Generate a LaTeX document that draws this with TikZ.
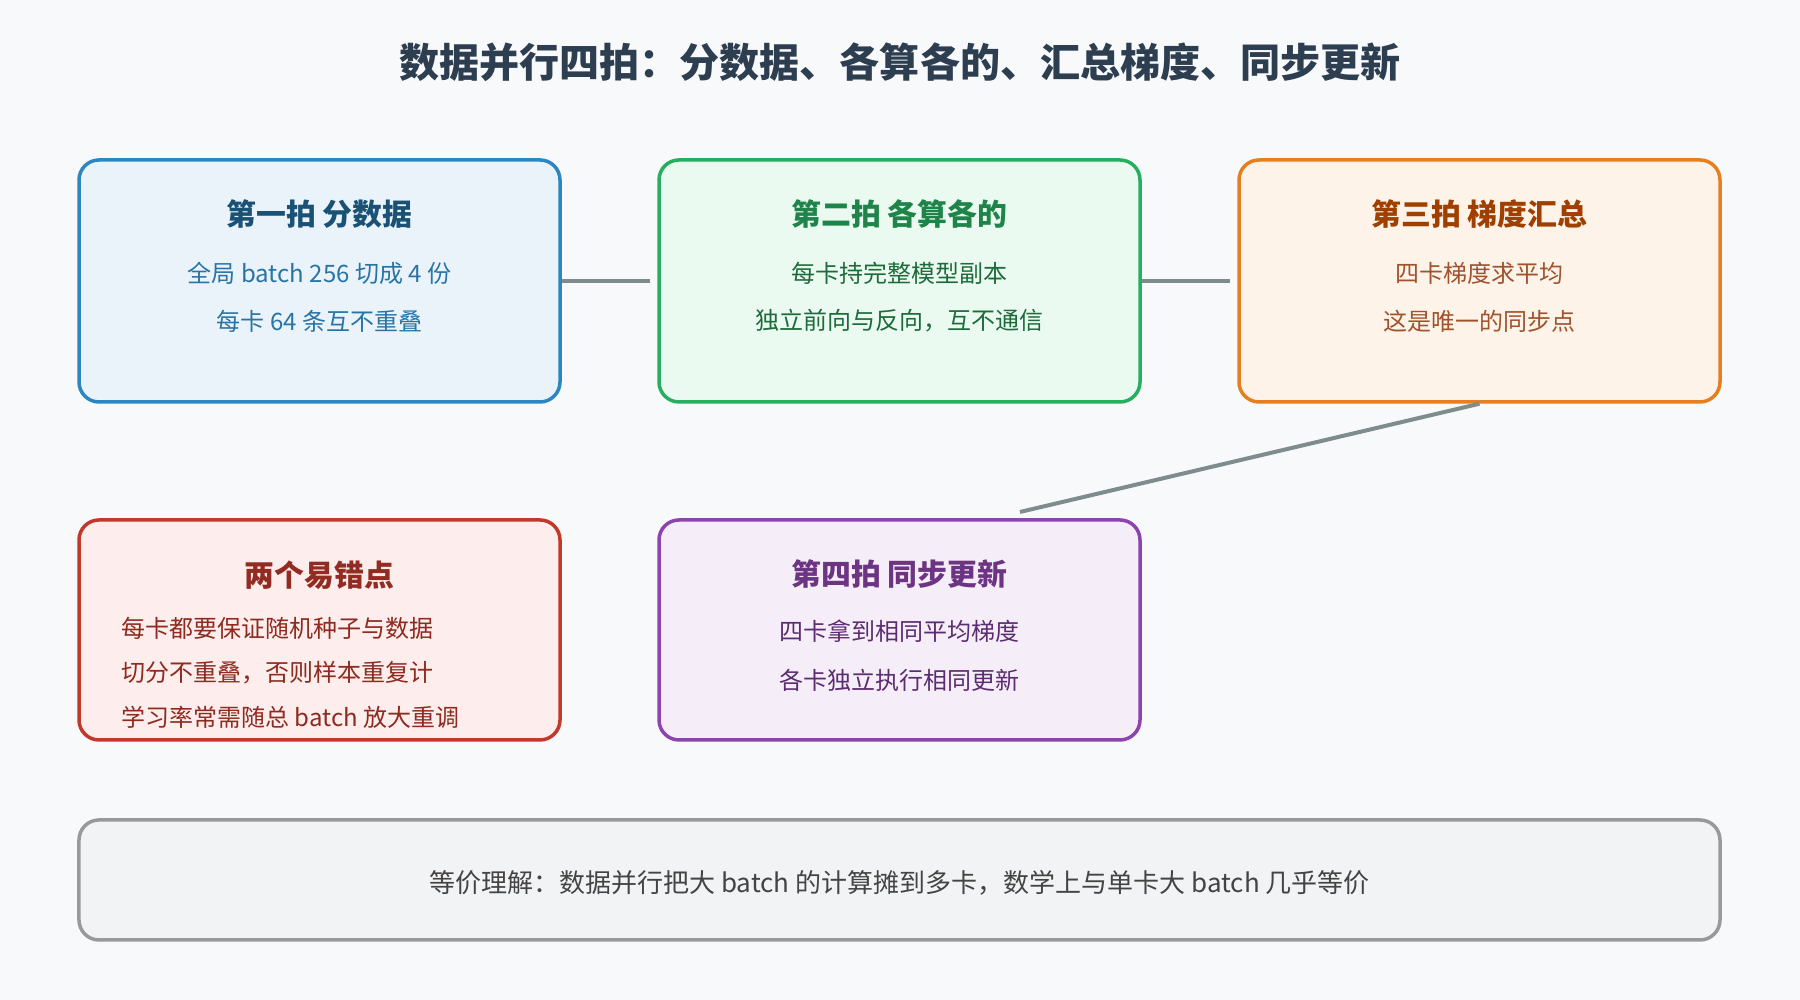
\documentclass[tikz,border=0pt]{standalone}
\usepackage{fontspec}
\setmainfont{Noto Sans CJK SC}
\usepackage{xcolor}
\usetikzlibrary{positioning}

\definecolor{bgpage}{HTML}{F8F9FB}
\definecolor{titlecol}{HTML}{2C3E50}
\definecolor{linkgray}{HTML}{7F8C8D}
\definecolor{blueline}{HTML}{2E86C1}
\definecolor{bluefill}{HTML}{EBF3FA}
\definecolor{bluehead}{HTML}{1A5276}
\definecolor{bluetext}{HTML}{2874A6}
\definecolor{greenline}{HTML}{27AE60}
\definecolor{greenfill}{HTML}{EAFAF1}
\definecolor{greenhead}{HTML}{1E8449}
\definecolor{greentext}{HTML}{1D6B3A}
\definecolor{orangeline}{HTML}{E67E22}
\definecolor{orangefill}{HTML}{FEF3E8}
\definecolor{orangehead}{HTML}{A04000}
\definecolor{orangetext}{HTML}{A0522D}
\definecolor{redline}{HTML}{C0392B}
\definecolor{redfill}{HTML}{FDEDEC}
\definecolor{redhead}{HTML}{922B21}
\definecolor{redtext}{HTML}{8E2A1F}
\definecolor{purpleline}{HTML}{8E44AD}
\definecolor{purplefill}{HTML}{F5EEF8}
\definecolor{purplehead}{HTML}{6C3483}
\definecolor{purpletext}{HTML}{5B2C6F}
\definecolor{grayline}{HTML}{999999}
\definecolor{grayfill}{HTML}{F2F3F4}
\definecolor{graytext}{HTML}{444444}

\begin{document}
\begin{tikzpicture}[
    box/.style={draw, rounded corners=0.2cm, line width=0.035cm, minimum width=4.81cm, minimum height=2.42cm, inner sep=0pt},
    head/.style={font=\fontsize{8.5}{10}\selectfont\bfseries},
    body/.style={font=\fontsize{6.83}{8}\selectfont},
    link/.style={line width=0.04cm, draw=linkgray, shorten >=0.07cm}
]
    % Page
    \fill[bgpage] (0,0) rectangle (18,10);
    \node[font=\fontsize{11.4}{13}\selectfont\bfseries, text=titlecol] (title) at (9, 9.38) {数据并行四拍：分数据、各算各的、汇总梯度、同步更新};

    % Step boxes
    \node[box, draw=blueline, fill=bluefill] (b1) at (3.195, 7.19) {};
    \node[box, draw=greenline, fill=greenfill] (b2) at (8.995, 7.19) {};
    \node[box, draw=orangeline, fill=orangefill] (b3) at (14.795, 7.19) {};
    \node[box, draw=redline, fill=redfill, minimum height=2.2cm] (b4) at (3.195, 3.70) {};
    \node[box, draw=purpleline, fill=purplefill, minimum height=2.2cm] (b5) at (8.995, 3.70) {};
    \node[box, draw=grayline, fill=grayfill, minimum width=16.41cm, minimum height=1.2cm] (b6) at (8.995, 1.20) {};

    % Box texts
    \node[head, text=bluehead] (h1) at (3.195, 7.86) {第一拍 分数据};
    \node[body, text=bluetext] (l1a) at (3.195, 7.27) {全局 batch 256 切成 4 份};
    \node[body, text=bluetext] (l1b) at (3.195, 6.79) {每卡 64 条互不重叠};

    \node[head, text=greenhead] (h2) at (8.995, 7.86) {第二拍 各算各的};
    \node[body, text=greentext] (l2a) at (8.995, 7.27) {每卡持完整模型副本};
    \node[body, text=greentext] (l2b) at (8.995, 6.79) {独立前向与反向，互不通信};

    \node[head, text=orangehead] (h3) at (14.795, 7.86) {第三拍 梯度汇总};
    \node[body, text=orangetext] (l3a) at (14.795, 7.27) {四卡梯度求平均};
    \node[body, text=orangetext] (l3b) at (14.795, 6.79) {这是唯一的同步点};

    \node[head, text=redhead] (h4) at (3.195, 4.25) {两个易错点};
    \node[body, text=redtext, anchor=west] (l4a) at (1.09, 3.72) {每卡都要保证随机种子与数据};
    \node[body, text=redtext, anchor=west] (l4b) at (1.09, 3.27) {切分不重叠，否则样本重复计};
    \node[body, text=redtext, anchor=west] (l4c) at (1.09, 2.83) {学习率常需随总 batch 放大重调};

    \node[head, text=purplehead] (h5) at (8.995, 4.26) {第四拍 同步更新};
    \node[body, text=purpletext] (l5a) at (8.995, 3.69) {四卡拿到相同平均梯度};
    \node[body, text=purpletext] (l5b) at (8.995, 3.20) {各卡独立执行相同更新};

    \node[font=\fontsize{7.4}{9}\selectfont, text=graytext] (note) at (8.995, 1.17) {等价理解：数据并行把大 batch 的计算摊到多卡，数学上与单卡大 batch 几乎等价};

    % Connectors
    \coordinate (c5) at (10.20, 4.88);
    \draw[link] (b1) -- (b2);
    \draw[link] (b2) -- (b3);
    \draw[link, shorten >=0pt] (b3.south) -- (c5);
\end{tikzpicture}
\end{document}
